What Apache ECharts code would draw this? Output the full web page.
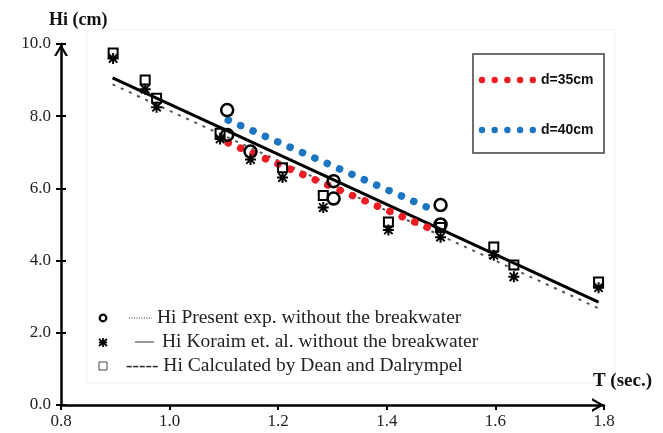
<!DOCTYPE html>
<html lang="en">
<head>
<meta charset="UTF-8">
<title>Hi vs T</title>
<style>
    html, body { margin: 0; background: #fff; }
    #main { width: 663px; height: 433px; }
</style>
</head>
<body>
<div id="main"></div>
<script src="https://cdn.jsdelivr.net/npm/echarts@6/dist/echarts.min.js"></script>
<script>
// T (sec.) and Hi (cm)
const presentT = [1.106, 1.106, 1.149, 1.302, 1.302, 1.499, 1.499]
const presentH = [8.17, 7.48, 7.02, 6.2, 5.72, 5.54, 5.0]
const koraimT = [0.896, 0.955, 0.976, 1.093, 1.149, 1.208, 1.283, 1.403, 1.499, 1.597, 1.634, 1.79]
const koraimH = [9.6, 8.75, 8.25, 7.37, 6.8, 6.3, 5.47, 4.85, 4.65, 4.15, 3.55, 3.25]
const deanT = [0.896, 0.955, 0.976, 1.093, 1.208, 1.283, 1.403, 1.499, 1.597, 1.634, 1.79]
const deanH = [9.75, 9.0, 8.5, 7.53, 6.57, 5.8, 5.07, 4.92, 4.38, 3.88, 3.41]

// fitted lines (end points)
const koraimFitT = [0.895, 1.79]
const koraimFitH = [9.06, 2.85]
const deanFitT = [0.895, 1.79]
const deanFitH = [8.88, 2.68]
const d35T = [1.108, 1.486]
const d35H = [7.26, 4.85]
const d40T = [1.108, 1.486]
const d40H = [7.89, 5.40]

const xTicks = [0.8, 1.0, 1.2, 1.4, 1.6, 1.8]
const yTicks = [0, 2, 4, 6, 8, 10]

const RED = '#ee1c24'
const BLUE = '#1c75c0'
const serif = '"Liberation Serif", "DejaVu Serif", serif'

const zip = (a, b) => a.map((v, i) => [v, b[i]])

const starPath = 'path://M5,0L5,10M0,5L10,5M1.2,1.2L8.8,8.8M8.8,1.2L1.2,8.8'
const chevron = 'path://M0,12L7,0L14,12L11.6,12L7,4.2L2.4,12Z'

let myChart = echarts.init(document.querySelector('#main'))

const axisLabel = {
    fontFamily: serif,
    fontSize: 17,
    color: '#222'
}

// legend decorations
const graphics = [
    {
        type: 'rect', z: -1, silent: true,
        shape: { x: 87, y: 30, width: 528, height: 353 },
        style: { fill: 'none', stroke: '#f1f1f1', lineWidth: 1 }
    },
    {
        type: 'rect',
        shape: { x: 473, y: 54, width: 131, height: 99 },
        style: { fill: '#fff', stroke: '#404040', lineWidth: 1.5 }
    },
    {
        type: 'text', x: 541, y: 80,
        style: { text: 'd=35cm', font: 'bold 14px "Liberation Sans", Arial, sans-serif', fill: '#111', verticalAlign: 'middle' }
    },
    {
        type: 'text', x: 541, y: 130,
        style: { text: 'd=40cm', font: 'bold 14px "Liberation Sans", Arial, sans-serif', fill: '#111', verticalAlign: 'middle' }
    },
    // bottom legend
    {
        type: 'circle', shape: { cx: 103, cy: 318, r: 3.3 },
        style: { fill: 'none', stroke: '#000', lineWidth: 2.2 }
    },
    {
        type: 'line', shape: { x1: 129, y1: 318, x2: 152, y2: 318 },
        style: { stroke: '#333', lineWidth: 1, lineDash: [1, 1.5] }
    },
    {
        type: 'text', x: 157, y: 318,
        style: { text: 'Hi Present exp. without the breakwater', font: '19.5px ' + serif, fill: '#222', verticalAlign: 'middle' }
    },
    {
        type: 'group', x: 99, y: 338,
        children: [
            { type: 'polyline', shape: { points: [[4, 0], [4, 9]] }, style: { stroke: '#000', lineWidth: 1.8 } },
            { type: 'polyline', shape: { points: [[0, 1], [8, 8]] }, style: { stroke: '#000', lineWidth: 1.8 } },
            { type: 'polyline', shape: { points: [[8, 1], [0, 8]] }, style: { stroke: '#000', lineWidth: 1.8 } },
            { type: 'polyline', shape: { points: [[0, 4.5], [8, 4.5]] }, style: { stroke: '#000', lineWidth: 1.8 } }
        ]
    },
    {
        type: 'line', shape: { x1: 135, y1: 342, x2: 154, y2: 342 },
        style: { stroke: '#333', lineWidth: 1 }
    },
    {
        type: 'text', x: 162, y: 342,
        style: { text: 'Hi Koraim et. al. without the breakwater', font: '19.5px ' + serif, fill: '#222', verticalAlign: 'middle' }
    },
    {
        type: 'rect', shape: { x: 99, y: 362, width: 8, height: 8 },
        style: { fill: 'none', stroke: '#444', lineWidth: 1 }
    },
    {
        type: 'text', x: 126, y: 366,
        style: { text: '----- Hi Calculated by Dean and Dalrympel', font: '19.5px ' + serif, fill: '#222', verticalAlign: 'middle' }
    }
]
for (let i = 0; i < 5; i++) {
    graphics.push({ type: 'circle', shape: { cx: 482 + i * 12.7, cy: 80, r: 3.2 }, style: { fill: RED } })
    graphics.push({ type: 'circle', shape: { cx: 482 + i * 12.7, cy: 130, r: 3.2 }, style: { fill: BLUE } })
}

let option = {
    animation: false,
    backgroundColor: '#fff',
    grid: { left: 61, right: 59, top: 44, bottom: 28 },
    xAxis: [
        {
            type: 'value',
            min: xTicks[0],
            max: xTicks[xTicks.length - 1],
            interval: 0.2,
            name: 'T (sec.)',
            nameLocation: 'end',
            nameGap: 48,
            nameTextStyle: {
                fontFamily: serif, fontSize: 19, fontWeight: 'bold', color: '#111',
                align: 'right', verticalAlign: 'bottom', padding: [0, 0, 14, 0]
            },
            axisLine: {
                lineStyle: { color: '#000', width: 2.5 },
                symbol: ['none', chevron],
                symbolSize: [15, 12],
                symbolOffset: [0, -6]
            },
            axisTick: { length: 5, lineStyle: { color: '#000', width: 2 } },
            axisLabel: { ...axisLabel, margin: 8, formatter: v => v.toFixed(1) },
            splitLine: { show: false }
        },
        {
            type: 'value',
            min: xTicks[0],
            max: xTicks[xTicks.length - 1],
            interval: 0.2,
            axisLine: { show: false },
            axisTick: { inside: true, length: 5, lineStyle: { color: '#000', width: 2 } },
            axisLabel: { show: false },
            splitLine: { show: false }
        }
    ],
    yAxis: [
        {
            type: 'value',
            min: yTicks[0],
            max: yTicks[yTicks.length - 1],
            interval: 2,
            name: 'Hi (cm)',
            nameLocation: 'end',
            nameGap: 15,
            nameTextStyle: {
                fontFamily: serif, fontSize: 18, fontWeight: 'bold', color: '#111',
                align: 'left', padding: [0, 0, 0, -12]
            },
            axisLine: {
                show: true,
                lineStyle: { color: '#000', width: 2.5 },
                symbol: ['none', chevron],
                symbolSize: [14, 12],
                symbolOffset: [0, -6]
            },
            axisTick: { show: true, length: 5, lineStyle: { color: '#000', width: 2 } },
            axisLabel: { ...axisLabel, margin: 10, formatter: v => v.toFixed(1) },
            splitLine: { show: false }
        },
        {
            type: 'value',
            position: 'left',
            min: yTicks[0],
            max: yTicks[yTicks.length - 1],
            interval: 2,
            axisLine: { show: false },
            axisTick: { show: true, inside: true, length: 5, lineStyle: { color: '#000', width: 2 } },
            axisLabel: { show: false },
            splitLine: { show: false }
        }
    ],
    series: [
        {
            name: 'Dean fit',
            type: 'line',
            data: zip(deanFitT, deanFitH),
            symbol: 'none',
            lineStyle: { color: '#555', width: 2, type: [3, 6] },
            z: 2
        },
        {
            name: 'Koraim fit',
            type: 'line',
            data: zip(koraimFitT, koraimFitH),
            symbol: 'none',
            lineStyle: { color: '#000', width: 3 },
            z: 2
        },
        {
            name: 'd=35cm',
            type: 'line',
            data: zip(d35T, d35H),
            symbol: 'none',
            lineStyle: { color: RED, width: 7.5, type: [0.1, 13.4], cap: 'round' },
            z: 3
        },
        {
            name: 'd=40cm',
            type: 'line',
            data: zip(d40T, d40H),
            symbol: 'none',
            lineStyle: { color: BLUE, width: 7.5, type: [0.1, 13.4], cap: 'round' },
            z: 3
        },
        {
            name: 'Hi Koraim et. al. without the breakwater',
            type: 'scatter',
            data: zip(koraimT, koraimH),
            symbol: starPath,
            symbolSize: 11,
            itemStyle: { color: 'transparent', borderColor: '#000', borderWidth: 2, opacity: 1 },
            z: 4
        },
        {
            name: 'Hi Calculated by Dean and Dalrympel',
            type: 'scatter',
            data: zip(deanT, deanH),
            symbol: 'rect',
            symbolSize: 9,
            itemStyle: { color: 'transparent', borderColor: '#000', borderWidth: 2, opacity: 1 },
            z: 4
        },
        {
            name: 'Hi Present exp. without the breakwater',
            type: 'scatter',
            data: zip(presentT, presentH),
            symbol: 'circle',
            symbolSize: 12,
            itemStyle: { color: 'transparent', borderColor: '#000', borderWidth: 2.5, opacity: 1 },
            z: 5
        }
    ],
    graphic: graphics
}
myChart.setOption(option)
</script>
</body>
</html>
